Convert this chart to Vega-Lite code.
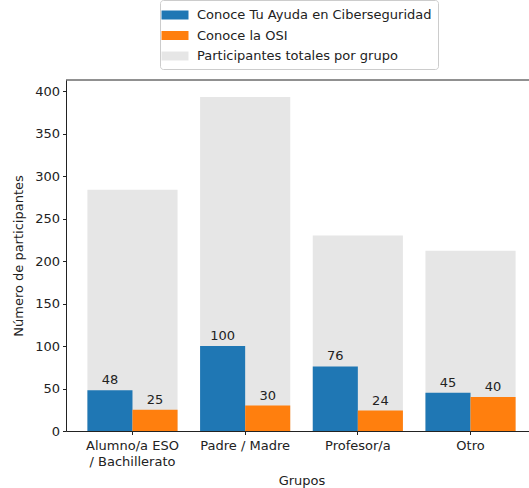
{
  "$schema": "https://vega.github.io/schema/vega-lite/v6.json",
  "width": 463,
  "height": 351,
  "autosize": {"type": "none"},
  "padding": {"left": 66, "top": 80, "right": 0, "bottom": 57},
  "config": {
    "font": "DejaVu Sans",
    "view": {"stroke": null},
    "axis": {"labelFont": "DejaVu Sans", "titleFont": "DejaVu Sans", "labelFontSize": 13, "titleFontSize": 13, "titleFontWeight": "normal", "labelColor": "#222", "titleColor": "#222", "domainColor": "#222", "tickColor": "#222", "tickSize": 3.5, "labelPadding": 3, "grid": false}
  },
  "data": {
    "values": [
      {"grupo": "Alumno/a ESO / Bachillerato", "serie": "Participantes totales por grupo", "valor": 284},
      {"grupo": "Padre / Madre", "serie": "Participantes totales por grupo", "valor": 393},
      {"grupo": "Profesor/a", "serie": "Participantes totales por grupo", "valor": 230},
      {"grupo": "Otro", "serie": "Participantes totales por grupo", "valor": 212},
      {"grupo": "Alumno/a ESO / Bachillerato", "serie": "Conoce Tu Ayuda en Ciberseguridad", "valor": 48},
      {"grupo": "Padre / Madre", "serie": "Conoce Tu Ayuda en Ciberseguridad", "valor": 100},
      {"grupo": "Profesor/a", "serie": "Conoce Tu Ayuda en Ciberseguridad", "valor": 76},
      {"grupo": "Otro", "serie": "Conoce Tu Ayuda en Ciberseguridad", "valor": 45},
      {"grupo": "Alumno/a ESO / Bachillerato", "serie": "Conoce la OSI", "valor": 25},
      {"grupo": "Padre / Madre", "serie": "Conoce la OSI", "valor": 30},
      {"grupo": "Profesor/a", "serie": "Conoce la OSI", "valor": 24},
      {"grupo": "Otro", "serie": "Conoce la OSI", "valor": 40}
    ]
  },
  "layer": [
    {
      "transform": [{"filter": "datum.serie == 'Participantes totales por grupo'"}],
      "mark": {"type": "bar", "color": "#e6e6e6"},
      "encoding": {
        "x": {
          "field": "grupo", "type": "nominal",
          "sort": ["Alumno/a ESO / Bachillerato", "Padre / Madre", "Profesor/a", "Otro"],
          "scale": {"range": [0, 471], "paddingInner": 0.2, "paddingOuter": 0.19},
          "axis": {"title": "Grupos", "labelAngle": 0, "labelPadding": 5, "labelLineHeight": 16, "labelExpr": "datum.value == 'Alumno/a ESO / Bachillerato' ? ['Alumno/a ESO', '/ Bachillerato'] : datum.value", "titleX": 235.5, "titleY": 49, "titleBaseline": "middle", "titleAnchor": null, "titleAlign": "center"}
        },
        "y": {
          "field": "valor", "type": "quantitative",
          "scale": {"domain": [0, 413], "nice": false},
          "axis": {"title": "Número de participantes", "values": [0, 50, 100, 150, 200, 250, 300, 350, 400], "titleX": -48, "titleY": 175.5, "titleBaseline": "middle", "titleAlign": "center", "titleAngle": -90}
        },
        "color": {
          "field": "serie", "type": "nominal",
          "scale": {"domain": ["Conoce Tu Ayuda en Ciberseguridad", "Conoce la OSI", "Participantes totales por grupo"], "range": ["#1f77b4", "#ff7f0e", "#e6e6e6"]},
          "legend": {"orient": "none", "legendX": 94, "legendY": -80, "title": null, "symbolType": "M-1.5,-0.5H1.5V0.5H-1.5Z", "symbolSize": 324, "symbolStrokeWidth": 0, "labelFontSize": 13, "labelFont": "DejaVu Sans", "labelColor": "#222", "padding": 6, "rowPadding": 4.5, "strokeColor": "#cccccc", "cornerRadius": 3, "fillColor": "white", "labelOffset": 13, "labelLimit": 400}
        }
      }
    },
    {
      "transform": [{"filter": "datum.serie != 'Participantes totales por grupo'"}],
      "mark": {"type": "bar"},
      "encoding": {
        "x": {"field": "grupo", "type": "nominal", "sort": ["Alumno/a ESO / Bachillerato", "Padre / Madre", "Profesor/a", "Otro"]},
        "xOffset": {"field": "serie", "type": "nominal", "sort": ["Conoce Tu Ayuda en Ciberseguridad", "Conoce la OSI"], "scale": {"paddingInner": 0, "paddingOuter": 0}},
        "y": {"field": "valor", "type": "quantitative"},
        "color": {"field": "serie", "type": "nominal"}
      }
    },
    {
      "transform": [{"filter": "datum.serie != 'Participantes totales por grupo'"}],
      "mark": {"type": "text", "baseline": "bottom", "dy": -3, "fontSize": 13, "color": "#222"},
      "encoding": {
        "x": {"field": "grupo", "type": "nominal", "sort": ["Alumno/a ESO / Bachillerato", "Padre / Madre", "Profesor/a", "Otro"]},
        "xOffset": {"field": "serie", "type": "nominal", "sort": ["Conoce Tu Ayuda en Ciberseguridad", "Conoce la OSI"]},
        "y": {"field": "valor", "type": "quantitative"},
        "text": {"field": "valor", "type": "quantitative"}
      }
    },
    {
      "data": {"values": [{"tope": 413}]},
      "mark": {"type": "rule", "color": "#222"},
      "encoding": {"y": {"field": "tope", "type": "quantitative"}}
    }
  ]
}
